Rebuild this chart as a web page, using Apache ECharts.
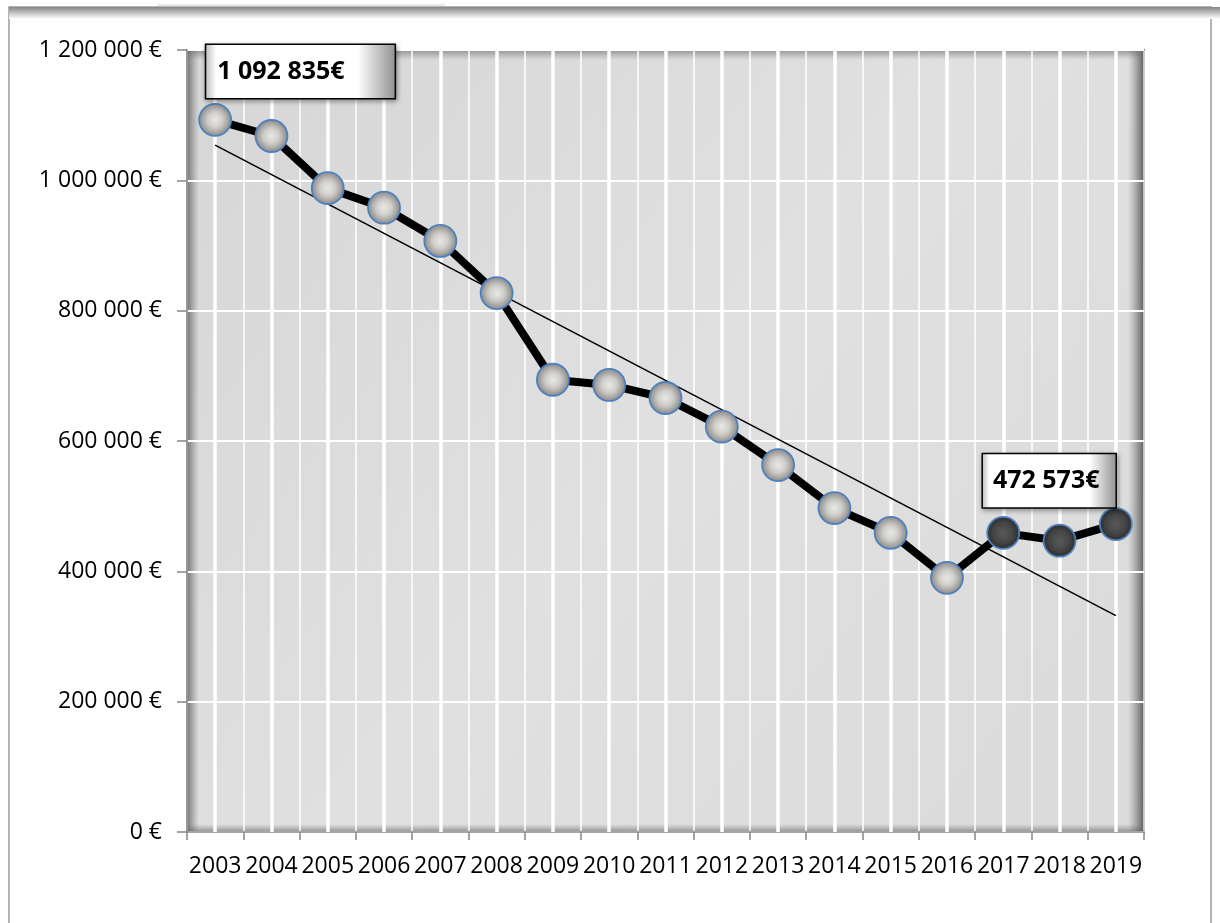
<!DOCTYPE html>
<html><head><meta charset="utf-8">
<script src="https://cdn.jsdelivr.net/npm/echarts@6/dist/echarts.min.js"></script>
<style>html,body{margin:0;padding:0;background:#fff}#c{width:1220px;height:923px}</style>
</head><body><div id="c"></div>
<script>
// ---- data ----
const years = ['2003','2004','2005','2006','2007','2008','2009','2010','2011','2012','2013','2014','2015','2016','2017','2018','2019'];
const values = [1092835, 1068000, 988000, 958000, 907000, 827000, 694000, 686000, 666000, 622000, 563000, 497000, 459000, 390000, 459000, 447000, 472573];
const darkMarkerYears = ['2017','2018','2019'];
const trendEnds = [1054000, 332000]; // trend line value at first and last year
const labelledYears = ['2003','2019'];
const yMin = 0, yMax = 1200000, yInterval = 200000;

// ---- helpers ----
const FONT = '"Open Sans", "Noto Sans", sans-serif';
function fmt(v){ return String(v).replace(/\B(?=(\d{3})+(?!\d))/g, ' '); }

const boxFill = {type:'linear', x:0, y:0, x2:1, y2:0, colorStops:[
  {offset:0, color:'#b8b8b8'},{offset:0.06, color:'#ffffff'},{offset:0.8, color:'#ffffff'},{offset:1, color:'#8f8f8f'}]};

const lightMarker = {type:'radial', x:0.5, y:0.5, r:0.5, colorStops:[
  {offset:0, color:'#e8e8e8'},{offset:0.45, color:'#cfcdc8'},{offset:1, color:'#858585'}]};
const darkMarker = {type:'radial', x:0.5, y:0.5, r:0.5, colorStops:[
  {offset:0, color:'#5a5a5a'},{offset:0.6, color:'#444444'},{offset:1, color:'#2a2a2a'}]};

const labelPos = {
  '2003': {position:[8,-58], padding:[12,50,12,11]},
  '2019': {position:[-116,-53], padding:[12,16,12,10]}
};

const mainData = values.map((v,i)=>{
  const y = years[i];
  const item = {value:v, itemStyle:{color: darkMarkerYears.includes(y) ? darkMarker : lightMarker}};
  if (labelledYears.includes(y)) {
    item.label = {
      show:true, position:labelPos[y].position, align:'left', verticalAlign:'top',
      formatter: p => fmt(p.value) + '€',
      fontFamily: FONT, fontWeight:'bold', fontSize:25, lineHeight:29, color:'#000',
      textBorderWidth:0,
      backgroundColor: boxFill, borderColor:'#000', borderWidth:1.5,
      shadowColor:'rgba(0,0,0,0.35)', shadowBlur:5, shadowOffsetX:1, shadowOffsetY:2,
      padding: labelPos[y].padding
    };
  }
  return item;
});

const trendData = years.map((y,i)=> i===0 ? trendEnds[0] : (i===years.length-1 ? trendEnds[1] : null));

const G = {left:187, top:50, right:76, bottom:91};
const PW = 1220 - G.left - G.right, PH = 923 - G.top - G.bottom;

const chart = echarts.init(document.getElementById('c'));
chart.setOption({
  animation:false,
  backgroundColor:'#fff',
  grid:{left:G.left, top:G.top, right:G.right, bottom:G.bottom, show:true, borderColor:'#000', borderWidth:1.5, backgroundColor:'transparent'},
  graphic:[
    // outer frame
    {type:'rect', z:-20, shape:{x:9,y:7,width:1202,height:930}, style:{fill:'#fff', stroke:'#9a9a9a', lineWidth:1.5}},
    {type:'rect', z:-19, shape:{x:9,y:7,width:1211,height:12}, style:{fill:{type:'linear',x:0,y:0,x2:0,y2:1,colorStops:[{offset:0,color:'#858585'},{offset:1,color:'#ffffff'}]}}},
    {type:'line', z:-19, shape:{x1:158,y1:5,x2:445,y2:5}, style:{stroke:'#d0d0d0', lineWidth:1}},
    // plot background (marble-like grey)
    {type:'rect', z:-10, shape:{x:G.left,y:G.top,width:PW,height:PH}, style:{fill:{type:'linear',x:0,y:0,x2:1,y2:1,colorStops:[{offset:0,color:'#d6d6d6'},{offset:0.5,color:'#e0e0e0'},{offset:1,color:'#dadada'}]}}},
    {type:'rect', z:-9, shape:{x:G.left,y:G.top,width:12,height:PH}, style:{fill:{type:'linear',x:0,y:0,x2:1,y2:0,colorStops:[{offset:0,color:'rgba(90,90,90,0.8)'},{offset:1,color:'rgba(120,120,120,0)'}]}}},
    {type:'rect', z:-9, shape:{x:G.left+PW-16,y:G.top,width:16,height:PH}, style:{fill:{type:'linear',x:0,y:0,x2:1,y2:0,colorStops:[{offset:0,color:'rgba(120,120,120,0)'},{offset:1,color:'rgba(70,70,70,0.85)'}]}}},
    {type:'rect', z:-9, shape:{x:G.left,y:G.top,width:PW,height:10}, style:{fill:{type:'linear',x:0,y:0,x2:0,y2:1,colorStops:[{offset:0,color:'rgba(100,100,100,0.6)'},{offset:1,color:'rgba(120,120,120,0)'}]}}},
    {type:'rect', z:-9, shape:{x:G.left,y:G.top+PH-8,width:PW,height:8}, style:{fill:{type:'linear',x:0,y:0,x2:0,y2:1,colorStops:[{offset:0,color:'rgba(120,120,120,0)'},{offset:1,color:'rgba(90,90,90,0.6)'}]}}}
  ],
  xAxis:{
    type:'category', data:years, boundaryGap:true,
    axisLine:{show:true, lineStyle:{color:'#868686', width:1.5}},
    axisTick:{show:true, length:8, lineStyle:{color:'#868686', width:1.5}},
    axisLabel:{interval:0, margin:23, fontFamily:FONT, fontSize:23, color:'#000'},
    splitLine:{show:true, lineStyle:{color:'#ffffff', width:1.5}}
  },
  yAxis:{
    type:'value', min:yMin, max:yMax, interval:yInterval,
    axisLine:{show:true, lineStyle:{color:'#868686', width:1.5}},
    axisTick:{show:true, length:10, lineStyle:{color:'#868686', width:1.5}},
    axisLabel:{margin:25, fontFamily:FONT, fontSize:23, color:'#000', formatter: v => fmt(v) + ' €'},
    splitLine:{show:true, lineStyle:{color:'#ffffff', width:2}}
  },
  series:[
    {
      name:'centres', type:'line', data:[], z:1, silent:true,
      markLine:{silent:true, symbol:'none', label:{show:false}, animation:false,
        lineStyle:{color:'#ffffff', width:3.5, type:'solid'},
        data: years.map(y=>({xAxis:y}))}
    },
    {
      name:'tendance', type:'line', data:trendData, connectNulls:true, zlevel:1, z:3,
      symbol:'none', lineStyle:{color:'#000', width:1.6}
    },
    {
      name:'valeurs', type:'line', data:mainData, zlevel:1, z:4,
      symbol:'circle', symbolSize:32,
      lineStyle:{color:'#000', width:8},
      itemStyle:{borderColor:'#4f81bd', borderWidth:1.8}
    }
  ]
});
</script></body></html>
